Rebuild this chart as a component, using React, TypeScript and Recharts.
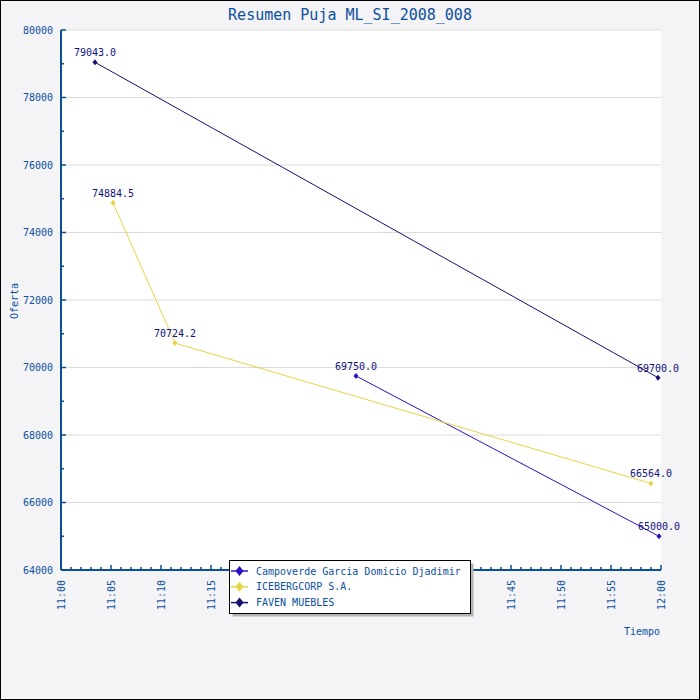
import React from 'react'
import { LineChart, Line, XAxis, YAxis, CartesianGrid, ReferenceLine, LabelList } from 'recharts'

const seriesNames = ['Campoverde Garcia Domicio Djadimir', 'ICEBERGCORP S.A.', 'FAVEN MUEBLES']
const seriesColors = ['#2a10c4', '#e6d444', '#15106e']

// tiempo en minutos despues de las 11:00
const campoverdeTimes = [29.5, 59.8]
const campoverdeOffers = [69750.0, 65000.0]
const icebergTimes = [5.2, 11.4, 59.0]
const icebergOffers = [74884.5, 70724.2, 66564.0]
const favenTimes = [3.4, 59.7]
const favenOffers = [79043.0, 69700.0]

const timeLabels = ['11:00', '11:05', '11:10', '11:15', '11:20', '11:25', '11:30', '11:35', '11:40', '11:45', '11:50', '11:55', '12:00']
const offerLabels = [64000, 66000, 68000, 70000, 72000, 74000, 76000, 78000, 80000]

const minuteTicks = Array.from({ length: 61 }, (_, i) => i)
const offerTicks = Array.from({ length: 17 }, (_, i) => 64000 + i * 1000)

const AXIS = '#0a4f9c'
const TEXT = '#0b4f9e'
const LABEL = '#10107f'
const FONT = '"DejaVu Sans Mono", "Liberation Mono", monospace'

const toRows = (t: number[], v: number[]) => t.map((time, i) => ({ t: time, v: v[i] }))

const series = [
  toRows(campoverdeTimes, campoverdeOffers),
  toRows(icebergTimes, icebergOffers),
  toRows(favenTimes, favenOffers),
]

function TimeTick(props: any) {
  const { x, y, payload } = props
  const m = payload.value
  const major = m % 5 === 0
  const axisY = y - 10
  return (
    <g>
      <line x1={x} x2={x} y1={axisY} y2={axisY - (major ? 5 : 3)} stroke={AXIS} strokeWidth={1.5} />
      {major && (
        <text x={x} y={y} dy="0.35em" textAnchor="end" transform={`rotate(-90 ${x} ${y})`}
          fill={TEXT} fontSize={10} fontFamily={FONT}>
          {timeLabels[m / 5]}
        </text>
      )}
    </g>
  )
}

function OfferTick(props: any) {
  const { x, y, payload } = props
  const v = payload.value
  const major = v % 2000 === 0
  const axisX = x + 8
  return (
    <g>
      <line x1={axisX} x2={axisX + (major ? 5 : 3)} y1={y} y2={y} stroke={AXIS} strokeWidth={1.5} />
      {major && (
        <text x={x} y={y} dy="0.35em" textAnchor="end" fill={TEXT} fontSize={10} fontFamily={FONT}>
          {v}
        </text>
      )}
    </g>
  )
}

const diamond = (cx: number, cy: number, w: number, h: number) =>
  `M${cx},${cy - h}L${cx + w},${cy}L${cx},${cy + h}L${cx - w},${cy}Z`

const makeDot = (color: string) => (p: any) => (
  <path key={`d${p.index}`} d={diamond(p.cx, p.cy, 2.5, 3)} fill={color} stroke="none" />
)

const valueLabel = (p: any) => (
  <text x={p.x} y={p.y - 6} textAnchor="middle" fill={LABEL} fontSize={10} fontFamily={FONT}>
    {Number(p.value).toFixed(1)}
  </text>
)

export default function App() {
  return (
    <div style={{ position: 'absolute', left: 0, top: 0, width: 700, height: 700, background: '#f4f4f6' }}>
      <LineChart width={700} height={700} margin={{ top: 30, right: 39, bottom: 0, left: 0 }}>
        <CartesianGrid fill="#fff" horizontal={false} vertical={false} />
        {offerLabels.slice(1).map((v) => (
          <ReferenceLine key={v} y={v} stroke="#dcdcdc" strokeWidth={1} />
        ))}
        <XAxis type="number" dataKey="t" domain={[0, 60]} ticks={minuteTicks} interval={0}
          tick={<TimeTick />} tickLine={false} tickSize={0} tickMargin={10} height={130}
          axisLine={{ stroke: AXIS, strokeWidth: 2 }} allowDuplicatedCategory={false} />
        <YAxis type="number" domain={[64000, 80000]} ticks={offerTicks} interval={0}
          tick={<OfferTick />} tickLine={false} tickSize={0} tickMargin={8} width={61}
          axisLine={{ stroke: AXIS, strokeWidth: 2 }} />
        {series.map((rows, i) => (
          <Line key={seriesNames[i]} data={rows} dataKey="v" name={seriesNames[i]} type="linear"
            stroke={seriesColors[i]} strokeWidth={1} dot={makeDot(seriesColors[i])} activeDot={false}
            isAnimationActive={false}>
            <LabelList dataKey="v" content={valueLabel} />
          </Line>
        ))}
      </LineChart>
      <svg width={700} height={700} style={{ position: 'absolute', left: 0, top: 0, pointerEvents: 'none' }}>
        <rect x={0.5} y={0.5} width={699} height={699} fill="none" stroke="#000" strokeWidth={1} />
        <text x={350} y={20} textAnchor="middle" fill={TEXT} fontSize={15} fontFamily={FONT}>
          Resumen Puja ML_SI_2008_008
        </text>
        <text x={14} y={301} dy="0.35em" textAnchor="middle" transform="rotate(-90 14 301)"
          fill={TEXT} fontSize={10} fontFamily={FONT}>
          Oferta
        </text>
        <text x={660} y={635} textAnchor="end" fill={TEXT} fontSize={10} fontFamily={FONT}>
          Tiempo
        </text>
        <rect x={232.5} y={563.5} width={241} height={53} fill="#b4b4b4" />
        <rect x={229.5} y={560.5} width={241} height={53} fill="#fff" stroke="#000" strokeWidth={1} />
        {seriesNames.map((name, i) => {
          const cy = 571 + i * 15.8
          return (
            <g key={name}>
              <line x1={231} x2={248} y1={cy} y2={cy} stroke={seriesColors[i]} strokeWidth={1.5} />
              <path d={diamond(239.5, cy, 4, 5)} fill={seriesColors[i]} />
              <text x={256} y={cy} dy="0.35em" fill={TEXT} fontSize={10} fontFamily={FONT}>
                {name}
              </text>
            </g>
          )
        })}
      </svg>
    </div>
  )
}
